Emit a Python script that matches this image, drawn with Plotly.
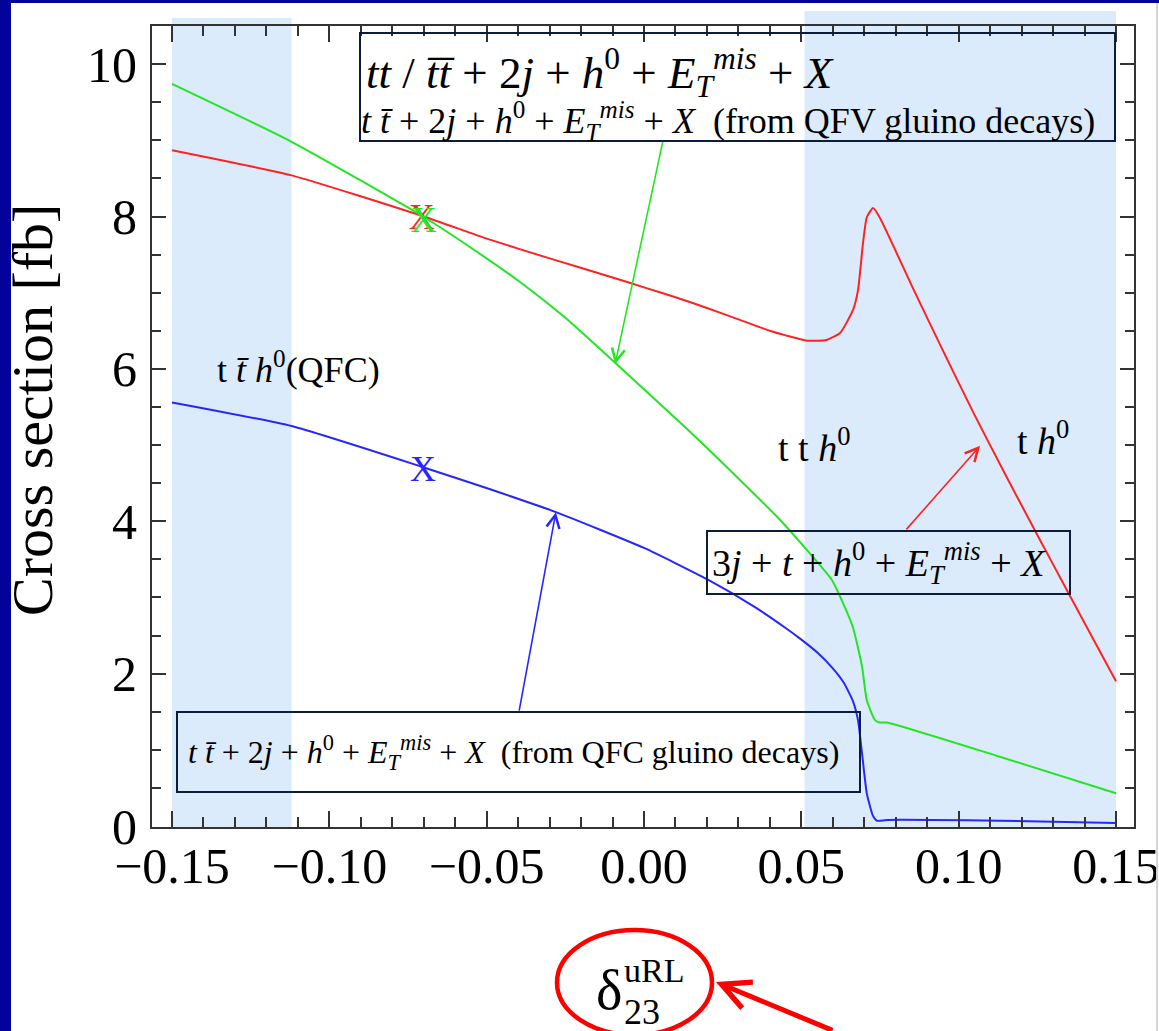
import plotly.graph_objects as go

# ---------------- data ----------------
red_x = [-0.15, -0.112, -0.07, -0.05, -0.03, -0.01, 0.0, 0.01, 0.02, 0.03, 0.04, 0.045, 0.0518,
         0.058, 0.0623, 0.0664, 0.068, 0.0696, 0.0708, 0.0728, 0.075, 0.085, 0.095, 0.105,
         0.115, 0.125, 0.135, 0.15]
red_y = [8.87, 8.54, 8.0, 7.71, 7.45, 7.2, 7.07, 6.94, 6.8, 6.65, 6.5, 6.44, 6.37,
         6.38, 6.47, 6.77, 7.03, 7.65, 7.99, 8.11, 7.98, 7.1, 6.24, 5.4,
         4.6, 3.82, 3.05, 1.9]

green_x = [-0.15, -0.112, -0.0702, -0.055, -0.0394, -0.025, -0.0092, 0.0178, 0.0432, 0.0597, 0.063,
           0.0664, 0.0693, 0.0708, 0.0734, 0.0748, 0.0772, 0.1131, 0.15]
green_y = [9.74, 8.98, 8.0, 7.59, 7.14, 6.67, 6.08, 5.05, 4.02, 3.23, 2.95,
           2.61, 2.09, 1.65, 1.39, 1.36, 1.36, 0.91, 0.43]

blue_x = [-0.15, -0.112, -0.0702, -0.0489, -0.028, 0.0, 0.02, 0.035, 0.045, 0.0496, 0.055, 0.06,
          0.0635, 0.0664, 0.068, 0.0693, 0.0708, 0.0727, 0.074, 0.0772, 0.1131, 0.15]
blue_y = [5.56, 5.25, 4.71, 4.42, 4.12, 3.65, 3.24, 2.88, 2.6, 2.46, 2.28, 2.07,
          1.88, 1.64, 1.39, 0.95, 0.43, 0.14, 0.07, 0.08, 0.07, 0.04]

# "X" markers (benchmark points)
mark_x = [-0.0706, -0.0700, -0.0702]
mark_y = [7.95, 7.91, 4.65]
mark_txt = ["X", "X", "X"]

# shaded (excluded) bands in delta
band_lo = [-0.15, 0.051]
band_hi = [-0.112, 0.15]

x_ticks = [-0.15, -0.10, -0.05, 0.00, 0.05, 0.10, 0.15]
y_ticks = [0, 2, 4, 6, 8, 10]

# ---------------- layout helpers ----------------
W, H = 1159, 1031
L, R, T, B = 152, 1134, 26, 827


def px(x):
    return (x - L) / (R - L)


def py(y):
    return (B - y) / (B - T)


FONT = "Liberation Serif, Times New Roman, serif"
RED = "#FF2222"
GREEN = "#22E622"
BLUE = "#2626FF"
NAVY = "#03039C"
FRAME = "#333333"
BOX = "#0C1C3C"
SHADE = "#DCEBFB"

fig = go.Figure()

for xs, ys, c in [(red_x, red_y, RED), (green_x, green_y, GREEN), (blue_x, blue_y, BLUE)]:
    fig.add_trace(go.Scatter(x=xs, y=ys, mode="lines",
                             line=dict(color=c, width=2, shape="spline", smoothing=0.5),
                             showlegend=False, hoverinfo="skip"))

fig.add_trace(go.Scatter(x=mark_x, y=mark_y, mode="text", text=mark_txt,
                         textfont=dict(family=FONT, size=36, color=[RED, GREEN, BLUE]),
                         textposition="middle center", showlegend=False, hoverinfo="skip"))

shapes = []
# navy slide border (left + top) and light edge at right
shapes.append(dict(type="rect", xref="paper", yref="paper", x0=px(-20), x1=px(11), y0=py(H + 20), y1=py(-20),
                   fillcolor=NAVY, line=dict(width=0), layer="above"))
shapes.append(dict(type="rect", xref="paper", yref="paper", x0=px(-20), x1=px(W + 20), y0=py(3), y1=py(-20),
                   fillcolor=NAVY, line=dict(width=0), layer="above"))
shapes.append(dict(type="line", xref="paper", yref="paper", x0=px(1157), x1=px(1157), y0=py(H), y1=py(3),
                   line=dict(color="#D4D4D4", width=2), layer="above"))
# shaded bands
for lo, hi, top in zip(band_lo, band_hi, [18, 11]):
    shapes.append(dict(type="rect", xref="x", yref="paper", x0=lo, x1=hi, y0=0, y1=py(top),
                       fillcolor=SHADE, line=dict(width=0), layer="below"))
# text boxes
for x0, x1, y0, y1 in [(360, 1115, 33, 141), (707, 1070, 531, 594), (177, 860, 712, 792)]:
    shapes.append(dict(type="rect", xref="paper", yref="paper", x0=px(x0), x1=px(x1), y0=py(y1), y1=py(y0),
                       line=dict(color=BOX, width=2), fillcolor="rgba(0,0,0,0)", layer="above"))
# red ellipse around axis title
shapes.append(dict(type="circle", xref="paper", yref="paper", x0=px(557), x1=px(712), y0=py(1035), y1=py(930),
                   line=dict(color="#FF0000", width=4.5), layer="above"))

tb = "t\u0304"
Emis = "<i>E</i><sub><i>T</i></sub><sup><i>mis</i></sup>"
annotations = []


def txt(text, x, y, size, color="black", xanchor="left", angle=0):
    annotations.append(dict(text=text, xref="paper", yref="paper", x=px(x), y=py(y), xanchor=xanchor,
                            yanchor="middle", showarrow=False, textangle=angle,
                            font=dict(family=FONT, size=size, color=color)))


txt(f"<i>tt</i> / <i>{tb}{tb}</i> + 2<i>j</i> + <i>h</i><sup>0</sup> + {Emis} + <i>X</i>", 364, 72, 45)
txt(f"<i>t {tb}</i> + 2<i>j</i> + <i>h</i><sup>0</sup> + {Emis} + <i>X</i>  (from QFV gluino decays)", 359, 121, 36)
txt(f"3<i>j</i> + <i>t</i> + <i>h</i><sup>0</sup> + {Emis} + <i>X</i>", 710, 563, 38)
txt(f"<i>t {tb}</i> + 2<i>j</i> + <i>h</i><sup>0</sup> + {Emis} + <i>X</i>  (from QFC gluino decays)", 186, 752, 32)
txt(f"t <i>{tb}</i> <i>h</i><sup>0</sup>(QFC)", 215, 367, 36)
txt("t t <i>h</i><sup>0</sup>", 776, 445, 38)
txt("t <i>h</i><sup>0</sup>", 1015, 438, 38)
txt("Cross section [fb]", 33, 410, 58, xanchor="center", angle=-90)
# axis variable (delta_23^uRL)
txt("\u03b4", 609, 990, 56, xanchor="center")
txt("uRL", 622, 970, 34)
txt("23", 622, 1012, 36)

# arrows pointing to curves
for hx, hy, ax, ay, c, w, s in [(-0.0092, 6.06, 48, -224, GREEN, 1.6, 1.6),
                                (0.1068, 4.99, -75, 85, RED, 1.6, 1.6),
                                (-0.028, 4.12, -37, 200, BLUE, 1.6, 1.6)]:
    annotations.append(dict(x=hx, y=hy, xref="x", yref="y", ax=ax, ay=ay, text="", showarrow=True,
                            arrowhead=5, arrowsize=s, arrowwidth=w, arrowcolor=c))
annotations.append(dict(x=px(716), y=py(982), xref="paper", yref="paper", ax=118, ay=56, text="",
                        showarrow=True, arrowhead=5, arrowsize=1.1, arrowwidth=5, arrowcolor="#FF0000"))

axis_common = dict(showline=True, linecolor=FRAME, linewidth=2, mirror="ticks", ticks="inside",
                   tickcolor=FRAME, tickwidth=1.5, showgrid=False, zeroline=False, automargin=False,
                   ticklabeloverflow="allow",
                   tickfont=dict(family=FONT, size=50, color="black"))

fig.update_layout(
    template="none",
    width=W, height=H,
    margin=dict(l=L, r=W - R, t=T, b=H - B, pad=0),
    paper_bgcolor="white", plot_bgcolor="white",
    showlegend=False,
    xaxis=dict(range=[-0.15636, 0.15572], tickvals=x_ticks, tickformat=".2f", ticklen=16,
               ticklabelstandoff=-6,
               minor=dict(dtick=0.01, tick0=0, ticks="inside", ticklen=10, tickcolor=FRAME, tickwidth=1.5),
               **axis_common),
    yaxis=dict(range=[-0.012, 10.5], tickvals=y_ticks, ticklen=14, ticklabelstandoff=3,
               minor=dict(dtick=0.5, tick0=0, ticks="inside", ticklen=9, tickcolor=FRAME, tickwidth=1.5),
               **axis_common),
    shapes=shapes,
    annotations=annotations,
)

fig.write_html("out.html", config={"displayModeBar": False},
               post_script="document.body.style.margin='0';document.body.style.overflow='hidden';")
